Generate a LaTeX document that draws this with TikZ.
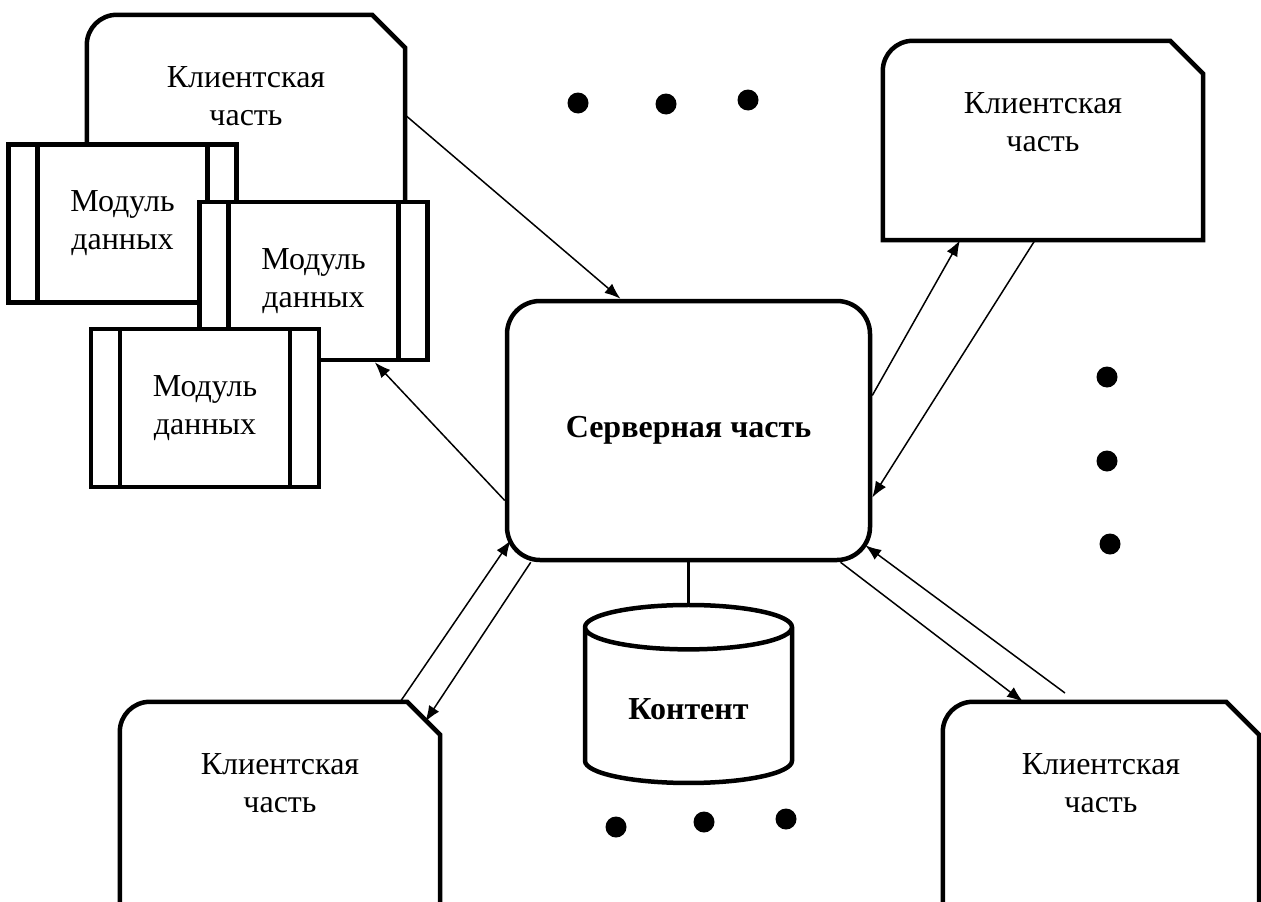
\documentclass[tikz,border=0pt]{standalone}
\usepackage{fontspec}
\setmainfont{Liberation Serif}
\usetikzlibrary{positioning,calc,shapes.geometric,arrows.meta}
\tikzset{frame/.style={line width=4.5pt},
 standard edge/.style={line width=1.5pt,-{Latex[length=16pt,width=12pt]}},
 client text/.style={anchor=center,yshift=-81pt,align=center},
 client/.style args={#1 by #2}{minimum width=#1,minimum height=#2,inner sep=0,
  label={[client text]north:Клиентская\\часть}},
 client outline/.style={insert path={(#1.south west) [rounded corners=30pt] -- (#1.north west)
  [sharp corners] -- ([xshift=-33pt]#1.north east) -- ([yshift=-33pt]#1.north east) -- (#1.south east) -- cycle}},
 module/.style={draw,frame,fill=white,minimum width=228,minimum height=158,inner sep=0,align=center,
  path picture={\draw[line width=4.5pt] ([xshift=29pt]path picture bounding box.north west) -- ([xshift=29pt]path picture bounding box.south west)
   ([xshift=-29pt]path picture bounding box.north east) -- ([xshift=-29pt]path picture bounding box.south east);}}}

\begin{document}
\begin{tikzpicture}[x=1pt,y=-1pt,font=\fontsize{32}{38}\selectfont,
 srv/.style={draw,frame,rounded corners=33pt,minimum width=363,minimum height=259,font=\fontsize{32}{38}\selectfont\bfseries},
 store/.style={draw,frame,cylinder,shape border rotate=90,aspect=0.35,minimum width=207,minimum height=178,
  font=\fontsize{32}{38}\selectfont\bfseries}]
\useasboundingbox (0,0) rectangle (1261,902);

\node[client=318 by 200] (c1) at (246,115) {};
\draw[frame,client outline=c1];
\node[client=320 by 199] (c2) at (1043,140.5) {};
\draw[frame,client outline=c2];
\node[client=320 by 210] (c3) at (280,807) {};
\draw[frame,client outline=c3];
\node[client=316 by 210] (c4) at (1101,807) {};
\draw[frame,client outline=c4];

\node[module] (m1) at (122.5,223.5) {Модуль\\данных};
\node[module] (m2) at (313.5,281) {Модуль\\данных};
\node[module] (m3) at (205,408) {Модуль\\данных};

\node[srv] (srv) at (688.5,430.5) {Серверная часть};
\node[store] (cont) at (688.5,709) {Контент};
\coordinate (f4) at (1065,693);

\draw[line width=3.5pt] (srv.south) -- (cont.north);
\draw (c1.east) edge[standard edge] ([xshift=-68pt]srv.north)
([yshift=-70pt]srv.west) edge[standard edge] ([xshift=-55pt]m2.south east)
([yshift=35pt]srv.east) edge[standard edge] ([xshift=-83pt]c2.south)
([xshift=-8pt]c2.south) edge[standard edge] ([yshift=-67pt]srv.east)
([xshift=152pt]srv.south) edge[standard edge] ([xshift=-78pt]c4.north)
(f4) edge[standard edge] ([xshift=-7pt,yshift=17pt]srv.south east)
([xshift=-40pt]c3.north east) edge[standard edge] ([xshift=6pt,yshift=22pt]srv.south west)
([xshift=26pt]srv.south west) edge[standard edge] ([xshift=-15pt,yshift=-20pt]c3.north east);

\foreach \px/\py in {578/103,666/104,748/100,1107/377,1107/461,1110/544,616/827,704/822,786/819}
 \fill (\px,\py) circle[radius=10.5pt];
\end{tikzpicture}
\end{document}
